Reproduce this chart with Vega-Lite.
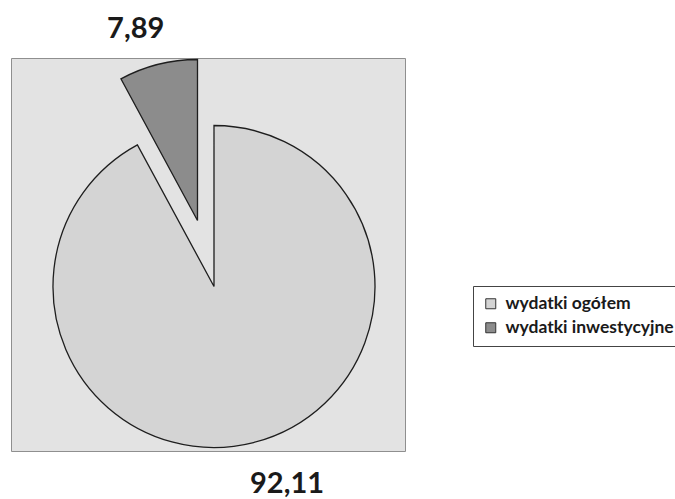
{
  "$schema": "https://vega.github.io/schema/vega-lite/v6.json",
  "width": 394,
  "height": 393,
  "autosize": {"type": "none"},
  "padding": {"left": 11, "top": 58, "right": 270, "bottom": 48},
  "background": "white",
  "view": {"fill": "#e3e3e3", "stroke": "#8f8f8f", "strokeWidth": 1},
  "config": {
    "font": "Lato"
  },
  "data": {
    "values": [
      {"kategoria": "wydatki ogółem", "udzial": 92.11, "etykieta": "92,11"},
      {"kategoria": "wydatki inwestycyjne", "udzial": 7.89, "etykieta": "7,89"}
    ]
  },
  "encoding": {
    "theta": {"field": "udzial", "type": "quantitative", "stack": true},
    "order": {"field": "kategoria", "type": "nominal", "sort": "descending"}
  },
  "layer": [
    {
      "mark": {"type": "arc", "outerRadius": 161, "xOffset": 6, "yOffset": 32, "stroke": "#1e1e1e", "strokeWidth": 1.3},
      "encoding": {
        "color": {
          "field": "kategoria",
          "type": "nominal",
          "scale": {"domain": ["wydatki ogółem", "wydatki inwestycyjne"], "range": ["#d4d4d4", "#8c8c8c"]},
          "legend": {
            "title": null,
            "orient": "none",
            "legendX": 462,
            "legendY": 228,
            "direction": "vertical",
            "symbolType": "square",
            "symbolSize": 100,
            "symbolStrokeColor": "#333333",
            "symbolStrokeWidth": 1,
            "labelFont": "Lato",
            "labelFontWeight": "bold",
            "labelFontSize": 17.5,
            "labelColor": "#1a1a1a",
            "labelLimit": 300,
            "labelOffset": 6,
            "rowPadding": 5,
            "padding": 9,
            "strokeColor": "#444444",
            "fillColor": "white"
          }
        },
        "opacity": {"condition": {"test": "datum.kategoria === 'wydatki inwestycyjne'", "value": 0}, "value": 1}
      }
    },
    {
      "mark": {"type": "arc", "outerRadius": 161, "xOffset": -10.5, "yOffset": -34, "stroke": "#1e1e1e", "strokeWidth": 1.3},
      "encoding": {
        "color": {"field": "kategoria", "type": "nominal"},
        "opacity": {"condition": {"test": "datum.kategoria === 'wydatki ogółem'", "value": 0}, "value": 1}
      }
    },
    {
      "mark": {"type": "text", "radius": 266, "xOffset": 6, "yOffset": 32, "dx": -13, "fontSize": 29, "fontWeight": "bold", "font": "Lato", "color": "#1a1a1a", "align": "center", "baseline": "middle"},
      "encoding": {
        "text": {"field": "etykieta"},
        "opacity": {"condition": {"test": "datum.kategoria === 'wydatki ogółem'", "value": 0}, "value": 1}
      }
    },
    {
      "mark": {"type": "text", "radius": 204, "xOffset": 6, "yOffset": 32, "dx": 23, "fontSize": 29, "fontWeight": "bold", "font": "Lato", "color": "#1a1a1a", "align": "center", "baseline": "middle"},
      "encoding": {
        "text": {"field": "etykieta"},
        "opacity": {"condition": {"test": "datum.kategoria === 'wydatki inwestycyjne'", "value": 0}, "value": 1}
      }
    }
  ]
}
